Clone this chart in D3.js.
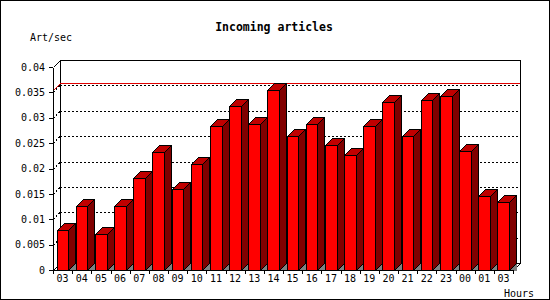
<!DOCTYPE html>
<html>
<head>
<meta charset="utf-8">
<script src="https://cdn.jsdelivr.net/npm/d3@7"></script>
<style>
  html, body { margin: 0; padding: 0; background: #fff; }
  svg { display: block; }
  text { font-family: "DejaVu Sans Mono", "Liberation Mono", monospace; fill: #000; }
</style>
</head>
<body>
<svg id="chart" width="550" height="300"></svg>
<script>
// ---- data ----
const hours = ["03","04","05","06","07","08","09","10","11","12","13","14","15","16","17","18","19","20","21","22","23","00","01","03"];
const artPerSec = [0.0078,0.0126,0.0071,0.0126,0.0181,0.0232,0.0160,0.0209,0.0284,0.0323,0.0288,0.0355,0.0264,0.0288,0.0246,0.0227,0.0284,0.0331,0.0264,0.0335,0.0343,0.0235,0.0146,0.0134];
const yTicks = [0,0.005,0.01,0.015,0.02,0.025,0.03,0.035,0.04];
const yTickLabels = ["0","0.005","0.01","0.015","0.02","0.025","0.03","0.035","0.04"];
const titleText = "Incoming articles";
const yTitle = "Art/sec";
const xTitle = "Hours";

(function(){
// ---- layout ----
const W = 550, H = 300;
const pLeft = 53, pRight = 513, pBottom = 270, pTop = 67, depth = 7;
const svg = d3.select("#chart");

svg.append("rect").attr("x",0).attr("y",0).attr("width",W).attr("height",H).attr("fill","#fff");

const n = hours.length;
const y = d3.scaleLinear().domain([0,0.04]).range([pBottom, pTop]);
const xb = d3.scaleBand().domain(d3.range(n)).range([pLeft, pRight]).paddingInner(0).paddingOuter(0);
const xl = d3.scaleLinear().domain([0,n]).range([pLeft, pRight]);

// back wall
const g = svg.append("g").attr("shape-rendering","crispEdges");
g.append("rect").attr("x", pLeft+depth+0.5).attr("y", pTop-depth+0.5)
  .attr("width", pRight-pLeft).attr("height", pBottom-pTop)
  .attr("fill","#fff").attr("stroke","#000");

// dotted gridlines on back wall + side diagonals
yTicks.slice(1, -1).forEach(v => {
  const yy = Math.round(y(v));
  g.append("line").attr("x1", pLeft+depth).attr("x2", pRight+depth)
    .attr("y1", yy-depth+0.5).attr("y2", yy-depth+0.5)
    .attr("stroke","#000").attr("stroke-dasharray","2,2");
  g.append("line").attr("x1", pLeft).attr("y1", yy+0.5)
    .attr("x2", pLeft+depth).attr("y2", yy-depth+0.5)
    .attr("stroke","#000").attr("stroke-dasharray","2,2");
});

// 3d frame diagonals
[[pLeft, pTop],[pLeft, pBottom],[pRight, pBottom]].forEach(p => {
  g.append("line").attr("x1", p[0]+0.5).attr("y1", p[1]+0.5)
    .attr("x2", p[0]+depth+0.5).attr("y2", p[1]-depth+0.5).attr("stroke","#000");
});

// max line (red)
const maxV = d3.max(artPerSec);
const ym = Math.round(y(maxV));
g.append("polyline")
  .attr("points", `${pLeft+0.5},${ym+0.5} ${pLeft+depth+0.5},${ym-depth+0.5} ${pRight+depth},${ym-depth+0.5}`)
  .attr("fill","none").attr("stroke","#e00000");

// bars
const bw = xb.bandwidth();
const bars = svg.append("g").attr("shape-rendering","crispEdges");
artPerSec.forEach((v, i) => {
  const x0 = Math.round(xb(i) + bw*0.19) + 0.5;
  const x1 = Math.round(xb(i) + bw*0.19 + bw*0.605) + 0.5;
  const yt = Math.round(y(v)) + 0.5;
  const yb = pBottom + 0.5;
  const gb = bars.append("g");
  gb.append("polygon")
    .attr("points", `${x1},${yb} ${x1+depth},${yb-depth} ${x1+depth},${yb}`)
    .attr("fill","#808080");
  gb.append("polygon")
    .attr("points", `${x1},${yt} ${x1+depth},${yt-depth} ${x1+depth},${yb-depth} ${x1},${yb}`)
    .attr("fill","#800000").attr("stroke","#000");
  gb.append("polygon")
    .attr("points", `${x0},${yt} ${x0+depth},${yt-depth} ${x1+depth},${yt-depth} ${x1},${yt}`)
    .attr("fill","#c00000").attr("stroke","#000");
  gb.append("rect").attr("x", x0).attr("y", yt).attr("width", x1-x0).attr("height", yb-yt)
    .attr("fill","#ff0000").attr("stroke","#000");
});

// y axis
const yAxis = d3.axisLeft(y).tickValues(yTicks)
  .tickFormat((d,i) => yTickLabels[i]).tickSize(4).tickSizeOuter(0).tickPadding(4);
const ya = svg.append("g").attr("transform", `translate(${pLeft},0)`).attr("shape-rendering","crispEdges").call(yAxis);
ya.selectAll("text").style("font-size","10px");
ya.selectAll("path, line").attr("stroke","#000");

// x axis tick marks at band boundaries
const xTickAxis = d3.axisBottom(xl).tickValues(d3.range(0, n+1)).tickFormat("").tickSize(4).tickSizeOuter(0);
const xa = svg.append("g").attr("transform", `translate(0,${pBottom})`).attr("shape-rendering","crispEdges").call(xTickAxis);
xa.selectAll("path, line").attr("stroke","#000");

// x labels at band centers
const xLabAxis = d3.axisBottom(xb).tickFormat(i => hours[i]).tickSize(0).tickPadding(5);
const xl2 = svg.append("g").attr("transform", `translate(0,${pBottom})`).call(xLabAxis);
xl2.select(".domain").remove();
xl2.selectAll("text").style("font-size","10px");

// titles
svg.append("text").attr("x", 274).attr("y", 30.5).attr("text-anchor","middle")
  .style("font-size","11.5px").style("font-weight","bold").text(titleText);
svg.append("text").attr("x", 30).attr("y", 40.5).style("font-size","10px").text(yTitle);
svg.append("text").attr("x", 504).attr("y", 296.5).style("font-size","10px").text(xTitle);

// outer border
svg.append("rect").attr("x",0.5).attr("y",0.5).attr("width",W-1).attr("height",H-1)
  .attr("fill","none").attr("stroke","#000").attr("shape-rendering","crispEdges");
})();
</script>
</body>
</html>
